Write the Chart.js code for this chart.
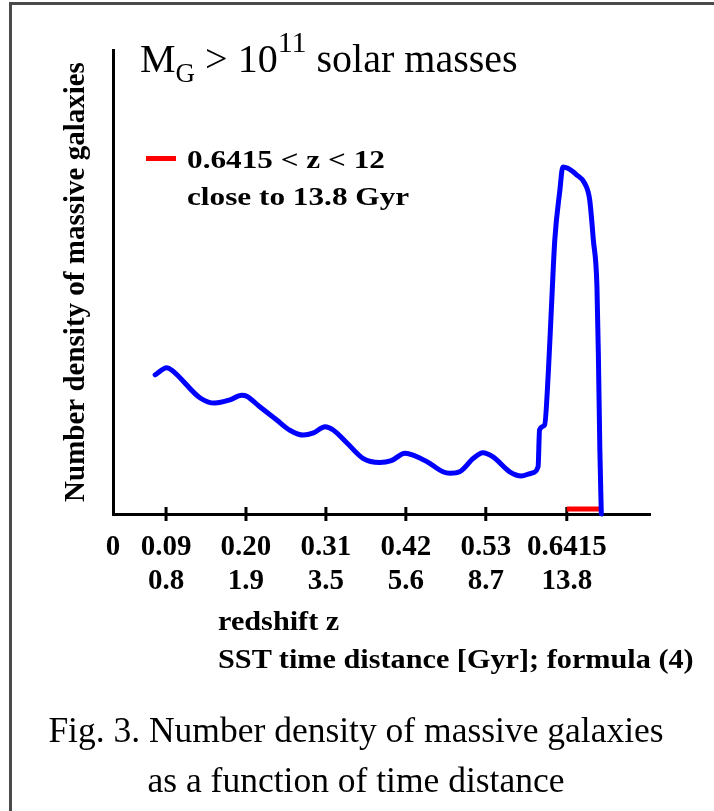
<!DOCTYPE html>
<html>
<head>
<meta charset="utf-8">
<title>Number density of massive galaxies</title>
<script src="https://cdn.jsdelivr.net/npm/chart.js@4.4.1/dist/chart.umd.min.js"></script>
<style>
  html, body { margin: 0; padding: 0; background: #fff; overflow: hidden; }
  #page { position: relative; width: 714px; height: 811px; font-family: "Liberation Serif", "Times New Roman", serif; color: #000; }
  #frame { position: absolute; left: 9px; top: 2px; width: 720px; height: 820px; border-top: 3px solid #4a4a4a; border-left: 3px solid #4a4a4a; }
  #chart-wrap { position: absolute; left: 0; top: 0; width: 714px; height: 811px; }
  .overlay { position: absolute; white-space: nowrap; }
  #title { left: 140px; top: 39px; font-size: 40px; line-height: 40px; }
  #title .sub { position: relative; top: 10px; font-size: 27px; }
  #title .sup { position: relative; top: -20px; font-size: 30px; }
  #legend-mark { left: 146px; top: 156px; width: 30px; height: 5px; background: #ff0000; }
  #legend-text { left: 187px; top: 141px; font-size: 25px; line-height: 37px; font-weight: bold; transform: scaleX(1.25); transform-origin: 0 0; }
  #x-title { left: 218px; top: 602px; font-size: 27px; line-height: 38px; font-weight: bold; transform: scaleX(1.12); transform-origin: 0 0; }
  #caption { left: 0; top: 705px; width: 712px; text-align: center; font-size: 35.5px; line-height: 50px; }
</style>
</head>
<body>
<div id="page">
  <div id="frame"></div>
  <div id="chart-wrap"><canvas id="density"></canvas></div>
  <div class="overlay" id="title">M<span class="sub">G</span> &gt; 10<span class="sup">11</span> solar masses</div>
  <div class="overlay" id="legend-mark"></div>
  <div class="overlay" id="legend-text">0.6415 &lt; z &lt; 12<br>close to 13.8 Gyr</div>
  <div class="overlay" id="x-title">redshift z<br>SST time distance [Gyr]; formula (4)</div>
  <div class="overlay" id="caption">Fig. 3. Number density of massive galaxies<br>as a function of time distance</div>
</div>

<script>
/* ===================================
   DATA
   density is in arbitrary units, 0 = x axis, 100 = top of y axis
   =================================== */

const curveZ = [
  0.075, 0.091, 0.098, 0.137, 0.157, 0.178, 0.194, 0.201, 0.219, 0.242,
  0.261, 0.279, 0.293, 0.309, 0.320, 0.339, 0.361, 0.384, 0.400, 0.419,
  0.430, 0.449, 0.471, 0.481, 0.494, 0.513, 0.526, 0.540, 0.563, 0.579,
  0.593, 0.602, 0.604, 0.611, 0.616, 0.620, 0.625, 0.632, 0.636, 0.643,
  0.655, 0.666, 0.673, 0.678, 0.683, 0.685, 0.687, 0.689,
];
const curveDensity = [
  30.0, 31.5, 31.0, 25.0, 23.9, 24.6, 25.6, 25.4, 23.1, 20.3,
  18.0, 17.0, 17.5, 18.8, 18.1, 15.3, 12.0, 11.1, 11.5, 13.1,
  12.7, 11.3, 9.1, 8.8, 9.1, 12.0, 13.2, 12.3, 9.1, 8.2,
  8.8, 10.2, 18.1, 19.2, 30.3, 43.3, 59.1, 69.8, 74.8, 74.5,
  73.1, 71.3, 67.7, 59.1, 49.0, 33.9, 13.8, 0,
];

// red band on the axis: 0.6415 < z < 12
const bandZ = [0.6415, 0.689];
const bandDensity = [1.1, 1.1];

// x axis: tick positions (redshift) and the two label rows
const zTicks = [0.09, 0.20, 0.31, 0.42, 0.53, 0.6415];
const zTickLabels = ['0.09', '0.20', '0.31', '0.42', '0.53', '0.6415'];
const gyrTickLabels = ['0.8', '1.9', '3.5', '5.6', '8.7', '13.8'];
const originLabel = '0';

const xMin = 0.017;
const xMax = 0.756;
const yMax = 100;

/* ===================================
   CHART
   =================================== */

const SERIF = '"Liberation Serif", "Times New Roman", serif';
Chart.defaults.font.family = SERIF;
Chart.defaults.color = '#000';

function zip(xs, ys) {
  return xs.map(function (x, i) { return { x: x, y: ys[i] }; });
}

new Chart(document.getElementById('density').getContext('2d'), {
  type: 'line',
  data: {
    datasets: [
      {
        data: zip(curveZ, curveDensity),
        borderColor: '#0000ff',
        borderWidth: 5,
        borderCapStyle: 'round',
        borderJoinStyle: 'round',
        cubicInterpolationMode: 'monotone',
        pointRadius: 0,
        clip: false,
      },
      {
        data: zip(bandZ, bandDensity),
        borderColor: '#ff0000',
        borderWidth: 5,
        pointRadius: 0,
        clip: false,
      },
      {
        // cross tick marks on the x axis
        data: zTicks.map(function (z) { return { x: z, y: 0 }; }),
        showLine: false,
        pointStyle: 'line',
        rotation: 90,
        pointRadius: 7,
        borderColor: '#000',
        borderWidth: 3,
        clip: false,
      },
    ],
  },
  options: {
    responsive: true,
    maintainAspectRatio: false,
    animation: false,
    events: [],
    layout: { padding: { top: 50, right: 64, bottom: 177, left: 0 } },
    plugins: {
      legend: { display: false },
      tooltip: { enabled: false },
    },
    scales: {
      x: {
        type: 'linear',
        min: xMin,
        max: xMax,
        afterBuildTicks: function (scale) {
          scale.ticks = [xMin].concat(zTicks).map(function (v) { return { value: v }; });
        },
        afterFit: function (scale) { scale.height = 120; },
        grid: { drawOnChartArea: false, drawTicks: false },
        border: { display: true, color: '#000', width: 3 },
        ticks: {
          autoSkip: false,
          maxRotation: 0,
          padding: 17,
          color: '#000',
          font: { size: 29, weight: 'bold', lineHeight: 34 / 29 },
          callback: function (value, index) {
            if (index === 0) return [originLabel, ''];
            return [zTickLabels[index - 1], gyrTickLabels[index - 1]];
          },
        },
      },
      y: {
        min: 0,
        max: yMax,
        afterFit: function (scale) { scale.width = 113; },
        grid: { drawOnChartArea: false, drawTicks: false },
        border: { display: true, color: '#000', width: 3 },
        ticks: { display: false },
        title: {
          display: true,
          text: 'Number density of massive galaxies',
          color: '#000',
          font: { size: 29, weight: 'bold' },
          padding: { top: 59, bottom: 0 },
        },
      },
    },
  },
});
</script>
</body>
</html>
